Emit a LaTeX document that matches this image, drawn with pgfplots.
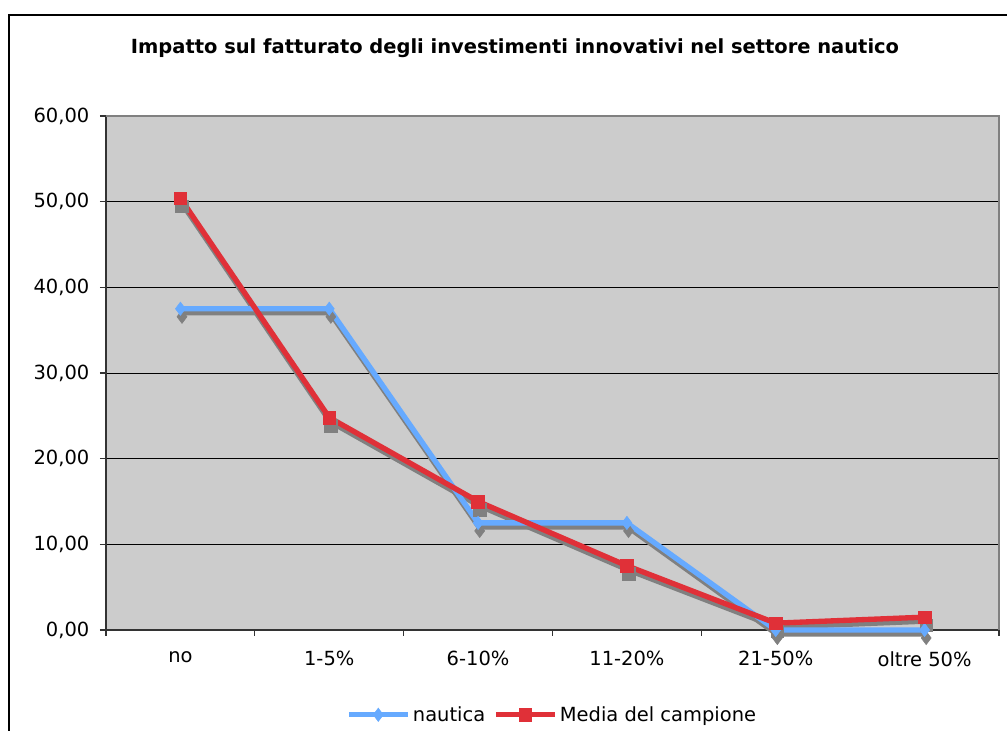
\documentclass[border=0pt]{standalone}
\usepackage{fontspec}
\setmainfont{DejaVu Sans}
\usepackage{pgfplots}
\pgfplotsset{compat=1.18}

\definecolor{nautblue}{RGB}{102,170,255}
\definecolor{mediared}{RGB}{224,48,56}
\definecolor{plotgray}{RGB}{204,204,204}
\definecolor{shadowgray}{RGB}{128,128,128}

% categories: no, 1-5%, 6-10%, 11-20%, 21-50%, oltre 50%
\pgfplotstableread{
x y
0 37.5
1 37.5
2 12.5
3 12.5
4 0
5 0
}\nautica
\pgfplotstableread{
x y
0 50.4
1 24.8
2 15.0
3 7.5
4 0.8
5 1.5
}\media

\begin{document}
\begin{tikzpicture}[x=0.75pt,y=0.75pt]
\useasboundingbox (0,0) rectangle (1007,731);
% chart frame
\draw[line width=2.2pt] (9,-5) -- (9,716) -- (1012,716);
% title
\node[font=\bfseries\fontsize{14.6}{17}\selectfont] at (515,683)
  {Impatto sul fatturato degli investimenti innovativi nel settore nautico};
\begin{axis}[
  at={(79.5pt,75.75pt)}, anchor=south west,
  scale only axis, width=669.75pt, height=385.5pt,
  xmin=-0.5, xmax=5.5, ymin=0, ymax=60,
  axis x line=bottom, axis y line=left,
  axis line style={-, line width=1.2pt, black!80},
  axis background/.style={fill=plotgray},
  xtick={0,...,5},
  xticklabels={no,1-5\%,6-10\%,11-20\%,21-50\%,oltre 50\%},
  minor xtick={-0.5,0.5,...,5.5},
  major x tick style={draw=none},
  minor x tick style={black!80, line width=0.8pt},
  minor tick length=4.5pt,
  ytick={0,10,...,60},
  major y tick style={black!80, line width=0.8pt},
  major tick length=4.5pt,
  tick align=outside,
  ymajorgrids,
  major grid style={black, line width=0.6pt},
  tick label style={font=\fontsize{14.6}{17}\selectfont},
  yticklabel style={xshift=-4.5pt, /pgf/number format/.cd, fixed, fixed zerofill, precision=2, use comma, assume math mode=true},
  xticklabel style={yshift=-8pt},
  clip=false,
  legend style={at={(0.5,-0.165)}, anchor=center, draw=none, fill=none,
    legend columns=2, font=\fontsize{14.6}{17}\selectfont,
    /tikz/every even column/.append style={column sep=4pt}},
  legend image code/.code={%
    \draw[#1, mark repeat=2, mark phase=2] plot coordinates {(0pt,0pt) (22pt,0pt) (44pt,0pt)};},
]
% drop shadows
\addplot[shadowgray, line width=4pt, mark=diamond*, mark size=5pt,
  mark options={solid, line width=0.4pt}, forget plot,
  transform canvas={xshift=0.6pt, yshift=-3pt}] table {\nautica};
\addplot[shadowgray, line width=4pt, mark=square*, mark size=4.75pt,
  mark options={solid, line width=0.4pt}, forget plot,
  transform canvas={xshift=0.6pt, yshift=-3pt}] table {\media};
% series
\addplot[nautblue, line width=4pt, mark=diamond*, mark size=5pt,
  mark options={solid, line width=0.4pt}] table {\nautica};
\addlegendentry{nautica}
\addplot[mediared, line width=4pt, mark=square*, mark size=4.75pt,
  mark options={solid, line width=0.4pt}] table {\media};
\addlegendentry{Media del campione}
% top and right borders of the plot area
\draw[shadowgray, line width=1.5pt] (rel axis cs:0,1) -- (rel axis cs:1,1) -- (rel axis cs:1,0);
\end{axis}
\end{tikzpicture}
\end{document}
